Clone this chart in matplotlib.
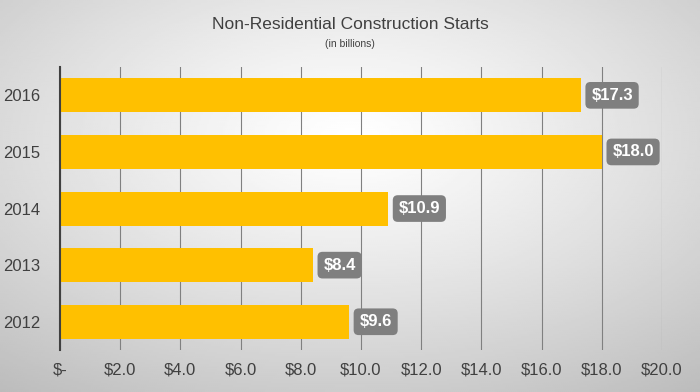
import numpy as np
import matplotlib.pyplot as plt

# data
years = ['2012', '2013', '2014', '2015', '2016']
values = [9.6, 8.4, 10.9, 18.0, 17.3]
ticks = [0, 2, 4, 6, 8, 10, 12, 14, 16, 18, 20]
tick_labels = ['$-'] + ['${:.1f}'.format(t) for t in ticks[1:]]

plt.rcParams['font.family'] = ['Liberation Sans Narrow', 'Liberation Sans', 'DejaVu Sans']

fig = plt.figure(figsize=(7, 3.92), dpi=100)

# radial gradient background
bg = fig.add_axes([0, 0, 1, 1], zorder=0)
yy, xx = np.mgrid[-1:1:200j, -1:1:350j]
r = np.sqrt(xx ** 2 + (yy + 0.3) ** 2) / np.sqrt(2)
bg.imshow(1.0 - 0.22 * r ** 1.2, cmap='gray', vmin=0, vmax=1, aspect='auto',
          extent=[0, 1, 0, 1], interpolation='bilinear', origin='upper')
bg.axis('off')

ax = fig.add_axes([0.0857, 0.107, 0.86, 0.722], zorder=1)
ax.patch.set_alpha(0)
ax.barh(years, values, height=0.6, color='#FFC000', zorder=2)
ax.set_xlim(0, 20)
ax.set_ylim(-0.5, 4.5)
ax.set_xticks(ticks)
ax.set_xticklabels(tick_labels)
ax.grid(axis='x', color='#808080', linewidth=0.8, zorder=1)
ax.tick_params(axis='both', length=0, labelsize=12, colors='#404040', pad=9)
for s in ['top', 'right', 'bottom']:
    ax.spines[s].set_visible(False)
ax.spines['left'].set_color('#404040')
ax.spines['left'].set_linewidth(1.5)
ax.tick_params(axis='y', pad=14)

# value labels
for i, v in enumerate(values):
    ax.text(v + 0.35, i, '${:.1f}'.format(v), va='center', ha='left',
            color='white', fontsize=12, fontweight='bold', zorder=3,
            bbox=dict(boxstyle='round,pad=0.35,rounding_size=0.3',
                      fc='#7f7f7f', ec='none'))

fig.text(0.5, 0.937, 'Non-Residential Construction Starts', ha='center',
         va='center', fontsize=12.5, color='#404040')
fig.text(0.5, 0.888, '(in billions)', ha='center', va='center',
         fontsize=7.5, color='#404040')

fig.savefig('out.png', dpi=100)
